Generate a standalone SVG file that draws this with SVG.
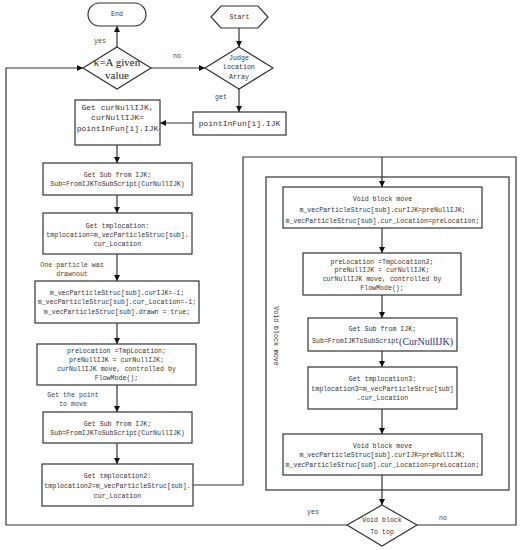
<svg xmlns="http://www.w3.org/2000/svg" width="520" height="550" viewBox="0 0 520 550">
<style>
.box{fill:#fff;stroke:#333;stroke-width:1.2}
.ln{fill:none;stroke:#333;stroke-width:1.2}
.t{font-family:"Liberation Mono",monospace;font-size:6.6px;fill:#333;text-anchor:middle;dominant-baseline:central}
.m{font-size:8px}
.lb{font-family:"Liberation Mono",monospace;font-size:6.6px;fill:#444;text-anchor:middle;dominant-baseline:central}
.k{font-family:"Liberation Serif",serif;font-size:11px;fill:#222;text-anchor:middle;dominant-baseline:central}
.blue{font-family:"Liberation Serif",serif;font-size:10px;fill:#2b2b8f}
</style>
<defs>
<marker id="ah" viewBox="0 0 10 10" refX="10" refY="5" markerWidth="6" markerHeight="6" markerUnits="userSpaceOnUse" orient="auto">
<path d="M0,0 L10,5 L0,10 z" fill="#111"/>
</marker>
</defs>
<rect width="520" height="550" fill="#fff"/>

<g id="connectors">
<line class="ln" x1="239" y1="28" x2="239" y2="47" marker-end="url(#ah)"/>
<line class="ln" x1="117" y1="47" x2="117" y2="26" marker-end="url(#ah)"/>
<line class="ln" x1="151" y1="68" x2="205" y2="68" marker-end="url(#ah)"/>
<line class="ln" x1="239" y1="89" x2="239" y2="112" marker-end="url(#ah)"/>
<line class="ln" x1="193" y1="123" x2="160" y2="123" marker-end="url(#ah)"/>
<line class="ln" x1="117" y1="145" x2="117" y2="163" marker-end="url(#ah)"/>
<line class="ln" x1="117" y1="195" x2="117" y2="213" marker-end="url(#ah)"/>
<line class="ln" x1="117" y1="254" x2="117" y2="281" marker-end="url(#ah)"/>
<line class="ln" x1="117" y1="323" x2="117" y2="344" marker-end="url(#ah)"/>
<line class="ln" x1="117" y1="385" x2="117" y2="412" marker-end="url(#ah)"/>
<line class="ln" x1="117" y1="443" x2="117" y2="464" marker-end="url(#ah)"/>
<polyline class="ln" points="193,485 243,485 243,157 382,157"/>
<polyline class="ln" points="417,525 516,525 516,157 382,157"/>
<line class="ln" x1="382" y1="157" x2="382" y2="187" marker-end="url(#ah)"/>
<line class="ln" x1="382" y1="228" x2="382" y2="253" marker-end="url(#ah)"/>
<line class="ln" x1="382" y1="295" x2="382" y2="318" marker-end="url(#ah)"/>
<line class="ln" x1="382" y1="351" x2="382" y2="367" marker-end="url(#ah)"/>
<line class="ln" x1="382" y1="409" x2="382" y2="434" marker-end="url(#ah)"/>
<line class="ln" x1="382" y1="475" x2="382" y2="505" marker-end="url(#ah)"/>
<polyline class="ln" points="347,525 6,525 6,68 83,68" marker-end="url(#ah)"/>
<text class="lb" x="100" y="41">yes</text>
<text class="lb" x="177" y="56">no</text>
<text class="lb" x="221" y="97">get</text>
<text class="lb" x="72" y="265">One particle was</text>
<text class="lb" x="72" y="274">drawnout</text>
<text class="lb" x="73" y="395">Get the point</text>
<text class="lb" x="73" y="404">to move</text>
<text class="lb" x="313" y="512">yes</text>
<text class="lb" x="443" y="518">no</text>
</g>

<g id="frame">
<rect x="266" y="177" width="243" height="313" fill="none" stroke="#333" stroke-width="1.2"/>
<text class="t" transform="translate(275,336) rotate(90)">Void block move</text>
</g>

<g id="end">
<rect class="box" x="88" y="3" width="58" height="23" rx="11.5"/>
<text class="t" x="117" y="14.5">End</text>
</g>
<g id="start">
<polygon class="box" points="211,17 221,6 258,6 268,17 258,28 221,28"/>
<text class="t" x="239.5" y="17">Start</text>
</g>
<g id="kappa">
<polygon class="box" points="117,47 151,68 117,89 83,68"/>
<text class="k" x="117" y="61.5">κ=A given</text>
<text class="k" x="117" y="74.5">value</text>
</g>
<g id="judge">
<polygon class="box" points="239,47 273,68 239,89 205,68"/>
<text class="t" x="239" y="58">Judge</text>
<text class="t" x="239" y="67">Location</text>
<text class="t" x="239" y="77">Array</text>
</g>
<g id="pointinfun">
<rect class="box" x="193" y="112" width="93" height="23"/>
<text class="t m" x="239.5" y="123.5">pointInFun[i].IJK</text>
</g>
<g id="getcur">
<rect class="box" x="75" y="100" width="85" height="45"/>
<text class="t m" x="117.5" y="107">Get curNullIJK,</text>
<text class="t m" x="117.5" y="117">curNullIJK=</text>
<text class="t m" x="117.5" y="128">pointInFun[i].IJK</text>
</g>
<g id="getsub1">
<rect class="box" x="43" y="163" width="149" height="32"/>
<text class="t" x="117.5" y="175">Get Sub from IJK;</text>
<text class="t" x="117.5" y="184">Sub=FromIJKToSubScript(CurNullIJK)</text>
</g>
<g id="gettmp1">
<rect class="box" x="43" y="213" width="149" height="41"/>
<text class="t" x="117.5" y="226">Get tmplocation:</text>
<text class="t" x="117.5" y="235">tmplocation=m_vecParticleStruc[sub].</text>
<text class="t" x="117.5" y="244">cur_Location</text>
</g>
<g id="drawn">
<rect class="box" x="35" y="281" width="164" height="42"/>
<text class="t" x="117" y="293">m_vecParticleStruc[sub].curIJK=-1;</text>
<text class="t" x="117" y="302">m_vecParticleStruc[sub].cur_Location=-1;</text>
<text class="t" x="117" y="312">m_vecParticleStruc[sub].drawn = true;</text>
</g>
<g id="pre1">
<rect class="box" x="37" y="344" width="159" height="41"/>
<text class="t" x="116.5" y="351">preLocation =TmpLocation;</text>
<text class="t" x="116.5" y="360">preNullIJK = curNullIJK;</text>
<text class="t" x="116.5" y="369">curNullIJK move, controlled by</text>
<text class="t" x="116.5" y="378">FlowMode();</text>
</g>
<g id="getsub2">
<rect class="box" x="43" y="412" width="149" height="31"/>
<text class="t" x="117.5" y="424">Get Sub from IJK;</text>
<text class="t" x="117.5" y="433">Sub=FromIJKToSubScript(CurNullIJK)</text>
</g>
<g id="gettmp2">
<rect class="box" x="42" y="464" width="151" height="42"/>
<text class="t" x="117.5" y="476">Get tmplocation2:</text>
<text class="t" x="117.5" y="486">tmplocation2=m_vecParticleStruc[sub].</text>
<text class="t" x="117.5" y="496">cur_Location</text>
</g>

<g id="move1">
<rect class="box" x="283" y="187" width="199" height="41"/>
<text class="t" x="382.5" y="199">Void block move</text>
<text class="t" x="382.5" y="210">m_vecParticleStruc[sub].curIJK=preNullIJK;</text>
<text class="t" x="382.5" y="221">m_vecParticleStruc[sub].cur_Location=preLocation;</text>
</g>
<g id="pre2">
<rect class="box" x="303" y="253" width="158" height="42"/>
<text class="t" x="382" y="262">preLocation =TmpLocation2;</text>
<text class="t" x="382" y="270">preNullIJK = curNullIJK;</text>
<text class="t" x="382" y="279">curNullIJK move, controlled by</text>
<text class="t" x="382" y="288">FlowMode();</text>
</g>
<g id="getsub3">
<rect class="box" x="308" y="318" width="149" height="33"/>
<text class="t" x="382.5" y="329">Get Sub from IJK;</text>
<text class="t" x="382.5" y="341">Sub=FromIJKToSubScript<tspan class="blue">(CurNullIJK)</tspan></text>
</g>
<g id="gettmp3">
<rect class="box" x="308" y="367" width="149" height="42"/>
<text class="t" x="382.5" y="379">Get tmplocation3:</text>
<text class="t" x="382.5" y="389">tmplocation3=m_vecParticleStruc[sub]</text>
<text class="t" x="382.5" y="398">.cur_Location</text>
</g>
<g id="move2">
<rect class="box" x="283" y="434" width="199" height="41"/>
<text class="t" x="382.5" y="446">Void block move</text>
<text class="t" x="382.5" y="455">m_vecParticleStruc[sub].curIJK=preNullIJK;</text>
<text class="t" x="382.5" y="465">m_vecParticleStruc[sub].cur_Location=preLocation;</text>
</g>
<g id="totop">
<polygon class="box" points="382,505 417,525 382,546 347,525"/>
<text class="t" x="382" y="520">Void block</text>
<text class="t" x="382" y="532">To top</text>
</g>
</svg>
